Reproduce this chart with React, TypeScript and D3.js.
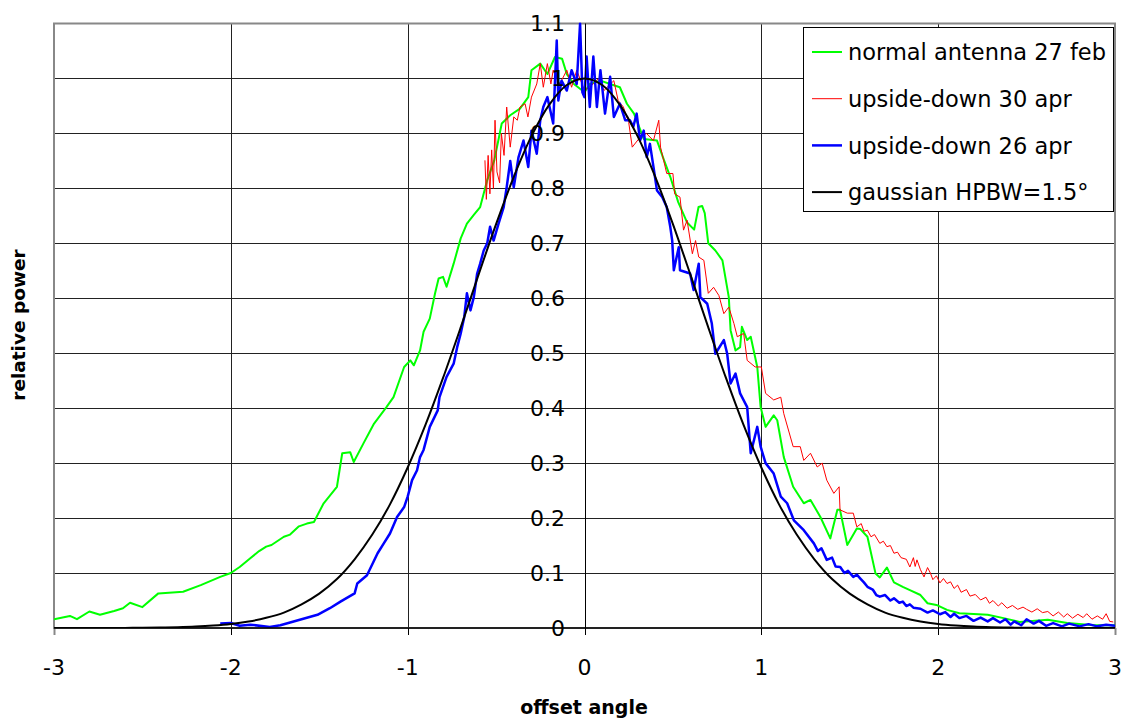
import React from 'react';
import * as d3 from 'd3';

type P = [number, number];

const xTickValues = [-3, -2, -1, 0, 1, 2, 3];
const yTickValues = [0, 0.1, 0.2, 0.3, 0.4, 0.5, 0.6, 0.7, 0.8, 0.9, 1, 1.1];
const yTickLabels = ['0', '0.1', '0.2', '0.3', '0.4', '0.5', '0.6', '0.7', '0.8', '0.9', '1', '1.1'];

const seriesNames = ['normal antenna 27 feb', 'upside-down 30 apr', 'upside-down 26 apr', 'gaussian HPBW=1.5°'];

const normalFeb27: P[] = [
  [-3.0,0.016],[-2.91,0.022],[-2.87,0.016],[-2.80,0.030],[-2.74,0.024],[-2.66,0.031],[-2.61,0.036],[-2.57,0.046],[-2.50,0.038],[-2.41,0.063],[-2.27,0.066],[-2.17,0.078],[-2.06,0.093],[-2.0,0.100],[-1.95,0.111],[-1.89,0.127],[-1.84,0.140],[-1.80,0.148],[-1.77,0.151],[-1.70,0.166],[-1.665,0.170],[-1.615,0.185],[-1.57,0.19],[-1.53,0.193],[-1.475,0.227],[-1.40,0.257],[-1.37,0.318],[-1.325,0.320],[-1.305,0.302],[-1.25,0.336],[-1.19,0.372],[-1.12,0.402],[-1.08,0.42],[-1.02,0.475],[-0.985,0.487],[-0.965,0.478],[-0.93,0.505],[-0.91,0.539],[-0.875,0.563],[-0.845,0.609],[-0.825,0.636],[-0.80,0.639],[-0.78,0.621],[-0.74,0.663],[-0.70,0.709],[-0.665,0.736],[-0.625,0.752],[-0.59,0.766],[-0.55,0.815],[-0.51,0.851],[-0.468,0.918],[-0.42,0.933],[-0.365,0.945],[-0.318,0.966],[-0.30,1.015],[-0.25,1.027],[-0.21,1.008],[-0.167,1.039],[-0.127,1.036],[-0.10,1.008],[-0.06,0.99],[0.0,0.975],[0.03,0.99],[0.09,0.996],[0.145,0.99],[0.20,0.984],[0.24,0.954],[0.28,0.936],[0.335,0.89],[0.41,0.887],[0.45,0.851],[0.485,0.821],[0.53,0.775],[0.58,0.738],[0.62,0.725],[0.645,0.766],[0.665,0.768],[0.68,0.755],[0.70,0.700],[0.74,0.687],[0.78,0.669],[0.816,0.602],[0.826,0.542],[0.854,0.505],[0.88,0.511],[0.89,0.548],[0.92,0.524],[0.94,0.53],[0.977,0.475],[0.996,0.402],[1.024,0.366],[1.07,0.387],[1.09,0.378],[1.127,0.311],[1.18,0.257],[1.24,0.227],[1.278,0.233],[1.334,0.202],[1.39,0.163],[1.43,0.215],[1.445,0.215],[1.486,0.151],[1.54,0.181],[1.56,0.180],[1.60,0.166],[1.646,0.099],[1.67,0.092],[1.71,0.110],[1.75,0.083],[1.80,0.075],[1.84,0.069],[1.90,0.06],[1.94,0.045],[1.99,0.042],[2.05,0.033],[2.12,0.027],[2.28,0.024],[2.37,0.018],[2.46,0.011],[2.62,0.015],[2.73,0.009],[2.88,0.005],[3.0,0.005]
];

const upsideApr30: P[] = [
  [-0.563,0.851],[-0.555,0.78],[-0.545,0.86],[-0.535,0.79],[-0.525,0.87],[-0.515,0.80],[-0.506,0.924],[-0.495,0.83],[-0.48,0.81],[-0.47,0.90],[-0.455,0.86],[-0.44,0.948],[-0.42,0.875],[-0.40,0.93],[-0.38,0.924],[-0.365,0.948],[-0.336,0.954],[-0.32,0.93],[-0.30,0.966],[-0.27,0.99],[-0.25,1.027],[-0.233,0.984],[-0.21,1.027],[-0.19,0.99],[-0.177,1.015],[-0.14,0.99],[-0.10,1.015],[-0.073,0.984],[-0.044,1.015],[0,0.978],[0.05,0.99],[0.08,1.0],[0.11,0.978],[0.166,0.996],[0.19,0.96],[0.22,0.948],[0.25,0.92],[0.27,0.875],[0.314,0.893],[0.35,0.90],[0.39,0.887],[0.42,0.924],[0.43,0.875],[0.465,0.827],[0.50,0.827],[0.51,0.79],[0.54,0.784],[0.56,0.724],[0.58,0.742],[0.61,0.681],[0.628,0.705],[0.646,0.675],[0.675,0.669],[0.70,0.609],[0.73,0.62],[0.76,0.605],[0.788,0.572],[0.816,0.584],[0.845,0.554],[0.864,0.53],[0.90,0.536],[0.92,0.487],[0.965,0.475],[1.0,0.475],[1.024,0.427],[1.07,0.415],[1.11,0.42],[1.127,0.39],[1.18,0.33],[1.22,0.33],[1.24,0.305],[1.278,0.318],[1.316,0.293],[1.344,0.30],[1.37,0.269],[1.41,0.245],[1.44,0.257],[1.445,0.215],[1.486,0.209],[1.52,0.209],[1.54,0.184],[1.565,0.19],[1.58,0.176],[1.60,0.178],[1.62,0.166],[1.64,0.17],[1.67,0.154],[1.69,0.158],[1.71,0.148],[1.73,0.15],[1.75,0.136],[1.77,0.138],[1.79,0.128],[1.82,0.125],[1.84,0.111],[1.86,0.128],[1.87,0.112],[1.88,0.124],[1.90,0.106],[1.92,0.093],[1.94,0.11],[1.956,0.100],[1.97,0.088],[1.99,0.095],[2.01,0.082],[2.03,0.09],[2.05,0.081],[2.07,0.084],[2.09,0.072],[2.11,0.078],[2.13,0.065],[2.16,0.07],[2.18,0.058],[2.21,0.061],[2.24,0.051],[2.27,0.056],[2.29,0.045],[2.31,0.05],[2.34,0.04],[2.36,0.046],[2.39,0.036],[2.42,0.041],[2.45,0.034],[2.48,0.038],[2.50,0.034],[2.53,0.029],[2.56,0.035],[2.59,0.028],[2.62,0.03],[2.65,0.022],[2.68,0.029],[2.71,0.02],[2.73,0.026],[2.76,0.018],[2.79,0.025],[2.82,0.019],[2.84,0.026],[2.87,0.016],[2.9,0.022],[2.93,0.016],[2.95,0.026],[2.97,0.012],[2.99,0.011]
];

const upsideApr26: P[] = [
  [-2.06,0.008],[-2.0,0.009],[-1.95,0.004],[-1.89,0.006],[-1.78,0.002],[-1.72,0.005],[-1.61,0.015],[-1.51,0.024],[-1.44,0.036],[-1.38,0.048],[-1.30,0.063],[-1.285,0.081],[-1.23,0.096],[-1.17,0.136],[-1.135,0.154],[-1.10,0.172],[-1.06,0.202],[-1.02,0.22],[-1.0,0.239],[-0.975,0.269],[-0.947,0.287],[-0.93,0.311],[-0.91,0.324],[-0.875,0.366],[-0.83,0.396],[-0.82,0.42],[-0.78,0.457],[-0.74,0.481],[-0.72,0.511],[-0.70,0.536],[-0.68,0.566],[-0.665,0.609],[-0.645,0.578],[-0.626,0.602],[-0.607,0.645],[-0.59,0.663],[-0.57,0.687],[-0.55,0.70],[-0.534,0.73],[-0.514,0.705],[-0.486,0.736],[-0.457,0.766],[-0.44,0.802],[-0.42,0.85],[-0.40,0.802],[-0.373,0.857],[-0.345,0.887],[-0.318,0.839],[-0.30,0.905],[-0.27,0.863],[-0.25,0.924],[-0.233,0.948],[-0.21,0.966],[-0.177,0.918],[-0.157,1.069],[-0.148,0.96],[-0.13,0.996],[-0.10,0.978],[-0.073,1.015],[-0.044,0.99],[-0.025,1.10],[-0.012,0.975],[0,0.966],[0.012,1.04],[0.03,0.948],[0.05,1.04],[0.07,0.948],[0.09,1.015],[0.116,0.936],[0.145,1.003],[0.166,0.93],[0.20,0.954],[0.23,0.924],[0.257,0.924],[0.276,0.912],[0.295,0.936],[0.314,0.887],[0.335,0.905],[0.352,0.857],[0.37,0.881],[0.39,0.839],[0.41,0.796],[0.44,0.784],[0.465,0.766],[0.485,0.73],[0.496,0.705],[0.505,0.651],[0.533,0.693],[0.54,0.651],[0.597,0.645],[0.617,0.615],[0.646,0.663],[0.655,0.602],[0.694,0.59],[0.72,0.554],[0.74,0.499],[0.788,0.524],[0.807,0.499],[0.826,0.445],[0.854,0.463],[0.88,0.427],[0.92,0.402],[0.94,0.318],[0.977,0.366],[0.996,0.33],[1.024,0.30],[1.07,0.281],[1.11,0.239],[1.146,0.227],[1.184,0.196],[1.24,0.178],[1.297,0.154],[1.32,0.14],[1.34,0.145],[1.37,0.124],[1.40,0.128],[1.42,0.112],[1.446,0.111],[1.47,0.1],[1.49,0.104],[1.52,0.093],[1.54,0.097],[1.56,0.09],[1.58,0.083],[1.60,0.075],[1.63,0.07],[1.65,0.06],[1.67,0.057],[1.70,0.06],[1.73,0.05],[1.75,0.054],[1.78,0.046],[1.80,0.048],[1.82,0.040],[1.84,0.043],[1.86,0.037],[1.90,0.035],[1.94,0.028],[1.97,0.032],[2.01,0.025],[2.04,0.029],[2.07,0.02],[2.09,0.026],[2.12,0.018],[2.16,0.022],[2.2,0.013],[2.24,0.019],[2.28,0.012],[2.31,0.018],[2.35,0.01],[2.38,0.016],[2.41,0.006],[2.43,0.012],[2.47,0.005],[2.5,0.016],[2.54,0.008],[2.57,0.013],[2.61,0.004],[2.65,0.009],[2.7,0.003],[2.74,0.008],[2.8,0.003],[2.85,0.007],[2.9,0.003],[2.95,0.006],[3.0,0.004]
];

const gaussian: P[] = [
  [-3.0,0],[-2.9,0],[-2.8,0],[-2.7,0.0001],[-2.6,0.0002],[-2.5,0.0005],[-2.4,0.0008],[-2.3,0.0015],[-2.2,0.0026],[-2.1,0.0044],[-2.0,0.0072],[-1.9,0.0117],[-1.8,0.0185],[-1.7,0.028],[-1.6,0.043],[-1.5,0.0625],[-1.4,0.089],[-1.3,0.125],[-1.2,0.170],[-1.1,0.225],[-1.0,0.292],[-0.9,0.369],[-0.8,0.455],[-0.7,0.547],[-0.6,0.642],[-0.5,0.735],[-0.4,0.821],[-0.3,0.895],[-0.2,0.952],[-0.1,0.988],[0,1],
  [0.1,0.988],[0.2,0.952],[0.3,0.895],[0.4,0.821],[0.5,0.735],[0.6,0.642],[0.7,0.547],[0.8,0.455],[0.9,0.369],[1.0,0.292],[1.1,0.225],[1.2,0.170],[1.3,0.125],[1.4,0.089],[1.5,0.0625],[1.6,0.043],[1.7,0.028],[1.8,0.0185],[1.9,0.0117],[2.0,0.0072],[2.1,0.0044],[2.2,0.0026],[2.3,0.0015],[2.4,0.0008],[2.5,0.0005],[2.6,0.0002],[2.7,0.0001],[2.8,0],[2.9,0],[3.0,0]
];

const FONT = "'DejaVu Sans', Verdana, sans-serif";

export default function App() {
  const x = d3.scaleLinear().domain([-3, 3]).range([54, 1115]);
  const y = d3.scaleLinear().domain([0, 1.1]).range([628, 23.5]);
  const line = d3.line<P>().x(d => x(d[0])).y(d => y(d[1]));
  const smooth = d3.line<P>().x(d => x(d[0])).y(d => y(d[1])).curve(d3.curveCatmullRom);

  const series = [
    { name: seriesNames[0], data: normalFeb27, color: '#00ff00', width: 2, gen: line },
    { name: seriesNames[1], data: upsideApr30, color: '#ff0000', width: 1, gen: line },
    { name: seriesNames[2], data: upsideApr26, color: '#0000ff', width: 2.5, gen: line },
    { name: seriesNames[3], data: gaussian, color: '#000000', width: 2, gen: smooth },
  ];

  const [x0, x1] = x.range();
  const [yb, yt] = y.range();

  return (
    <svg width={1123} height={718} style={{ position: 'absolute', left: 0, top: 0, background: '#fff' }} fontFamily={FONT}>
      <defs>
        <clipPath id="plot">
          <rect x={x0} y={yt - 1} width={x1 - x0} height={yb - yt + 1} />
        </clipPath>
      </defs>
      <rect x={0} y={0} width={1123} height={718} fill="#fff" />
      {yTickValues.filter(v => v > 0 && v < 1.1).map(v => (
        <line key={'h' + v} x1={x0} x2={x1} y1={Math.round(y(v)) + 0.5} y2={Math.round(y(v)) + 0.5} stroke="#222" strokeWidth={1} />
      ))}
      {xTickValues.filter(v => v !== -3 && v !== 3 && v !== 0).map(v => (
        <line key={'v' + v} x1={Math.round(x(v)) + 0.5} x2={Math.round(x(v)) + 0.5} y1={yt} y2={yb} stroke="#222" strokeWidth={1} />
      ))}
      <rect x={x0} y={yt} width={x1 - x0} height={yb - yt} fill="none" stroke="#888" strokeWidth={2} />
      {xTickValues.map(v => (
        <line key={'xt' + v} x1={Math.round(x(v)) + 0.5} x2={Math.round(x(v)) + 0.5} y1={yb} y2={yb + 7}
          stroke={v === -3 || v === 3 ? '#888' : '#000'} strokeWidth={v === -3 || v === 3 ? 2 : 1} />
      ))}
      <g clipPath="url(#plot)">
        {series.map(s => (
          <path key={s.name} d={s.gen(s.data) || ''} fill="none" stroke={s.color} strokeWidth={s.width} strokeLinejoin="round" />
        ))}
      </g>
      <line x1={x0} x2={x1} y1={yb} y2={yb} stroke="#000" strokeWidth={1.5} />
      <line x1={Math.round(x(0)) + 0.5} x2={Math.round(x(0)) + 0.5} y1={yt} y2={yb} stroke="#000" strokeWidth={1} />
      {yTickValues.map((v, i) => (
        <text key={'yl' + v} x={565} y={y(v)} dy="0.36em" textAnchor="end" fontSize={22} fill="#000">{yTickLabels[i]}</text>
      ))}
      {xTickValues.map(v => (
        <text key={'xl' + v} x={x(v)} y={667} dy="0.36em" textAnchor="middle" fontSize={22} fill="#000">{String(v)}</text>
      ))}
      <text x={584} y={714} textAnchor="middle" fontSize={19} fontWeight="bold" fill="#000">offset angle</text>
      <text transform="translate(25,325) rotate(-90)" textAnchor="middle" fontSize={18.5} fontWeight="bold" fill="#000">relative power</text>
      <g>
        <rect x={803.5} y={27.5} width={310} height={184} fill="#fff" stroke="#000" strokeWidth={1} />
        {series.map((s, i) => {
          const cy = 52 + i * 46.7;
          return (
            <g key={'lg' + i}>
              <line x1={812} x2={842} y1={cy} y2={cy} stroke={s.color} strokeWidth={s.width} />
              <text x={848} y={cy} dy="0.36em" fontSize={22.5} fill="#000">{s.name}</text>
            </g>
          );
        })}
      </g>
    </svg>
  );
}
